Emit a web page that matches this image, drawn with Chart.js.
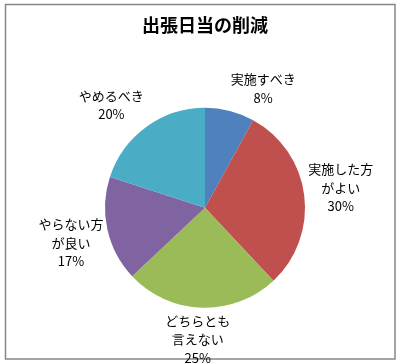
<!DOCTYPE html>
<html>
<head>
<meta charset="utf-8">
<script src="https://cdn.jsdelivr.net/npm/chart.js@4/dist/chart.umd.min.js"></script>
<style>
html,body{margin:0;padding:0;background:#fff;}
#wrap{width:401px;height:364px;position:relative;}
</style>
</head>
<body>
<div id="wrap"><canvas id="c" width="401" height="364"></canvas></div>
<script>
const chartTitle = '出張日当の削減';
const categories = ['実施すべき', '実施した方がよい', 'どちらとも言えない', 'やらない方が良い', 'やめるべき'];
const labelLines = [['実施すべき'], ['実施した方', 'がよい'], ['どちらとも', '言えない'], ['やらない方', 'が良い'], ['やめるべき']];
const values = [8, 30, 25, 17, 20];
const colors = ['#4F81BD', '#C0504D', '#9BBB59', '#8064A2', '#4BACC6'];

const frame = {
  id: 'frame',
  beforeDraw(chart) {
    const ctx = chart.ctx;
    ctx.save();
    ctx.fillStyle = '#fff';
    ctx.fillRect(0, 0, chart.width, chart.height);
    ctx.strokeStyle = '#868686';
    ctx.lineWidth = 1.5;
    ctx.strokeRect(5.5, 4.5, 389.5, 354.5);
    ctx.restore();
  }
};

const outLabels = {
  id: 'outLabels',
  afterDatasetsDraw(chart) {
    const ctx = chart.ctx;
    const meta = chart.getDatasetMeta(0);
    const total = values.reduce((a, b) => a + b, 0);
    const lh = 18.5;
    ctx.save();
    ctx.font = '13px "Noto Sans CJK JP"';
    ctx.fillStyle = '#000';
    ctx.textAlign = 'center';
    ctx.textBaseline = 'middle';
    meta.data.forEach((arc, i) => {
      const mid = (arc.startAngle + arc.endAngle) / 2 + Math.PI / 2; // from top, clockwise
      const s = Math.sin(mid), c = Math.cos(mid);
      const lines = labelLines[i].concat([Math.round(values[i] / total * 100) + '%']);
      let w = 0;
      lines.forEach(l => { w = Math.max(w, ctx.measureText(l).width); });
      const h = lines.length * lh;
      const r = arc.outerRadius + 4;
      const px = arc.x + r * s, py = arc.y - r * c;
      const clamp = v => Math.max(-1, Math.min(1, v));
      const cx = px + clamp(4 * s) * w / 2;
      const cy = py - clamp(2 * c) * h / 2;
      lines.forEach((l, k) => {
        ctx.fillText(l, cx, cy - h / 2 + lh * (k + 0.5));
      });
    });
    ctx.restore();
  }
};

new Chart(document.getElementById('c'), {
  type: 'pie',
  data: {
    labels: categories,
    datasets: [{
      data: values,
      backgroundColor: colors,
      borderWidth: 0
    }]
  },
  options: {
    responsive: false,
    animation: false,
    layout: { padding: { left: 105, right: 96, top: 0, bottom: 56 } },
    plugins: {
      legend: { display: false },
      tooltip: { enabled: false },
      title: {
        display: true,
        text: chartTitle,
        color: '#000',
        font: { family: '"Noto Sans CJK JP"', size: 18, weight: 'bold' },
        padding: { top: 14, bottom: 72 }
      }
    }
  },
  plugins: [frame, outLabels]
});
</script>
</body>
</html>
